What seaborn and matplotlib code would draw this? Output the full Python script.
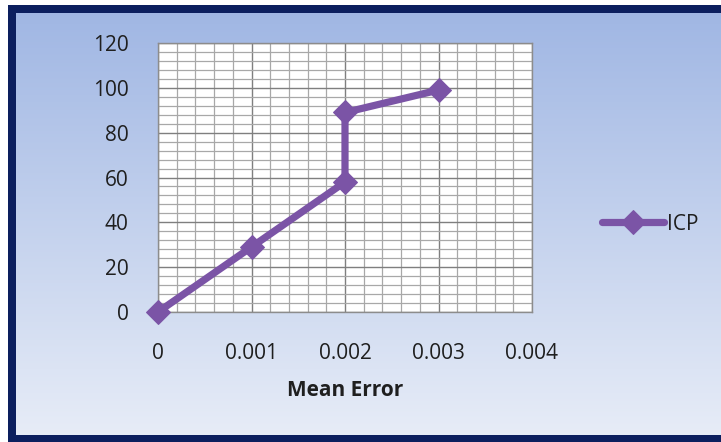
import numpy as np
import pandas as pd
import seaborn as sns
import matplotlib.pyplot as plt
from matplotlib.patches import Rectangle
from matplotlib.ticker import MultipleLocator

# values
mean_error = [0, 0.001, 0.002, 0.002, 0.003]
icp = [0, 29, 58, 89, 99]
x_ticks = [0, 0.001, 0.002, 0.003, 0.004]
x_labels = ["0", "0.001", "0.002", "0.003", "0.004"]
y_ticks = [0, 20, 40, 60, 80, 100, 120]

df = pd.DataFrame({"Mean Error": mean_error, "ICP": icp})

sns.set_style("white")
plt.rcParams["font.family"] = ["Open Sans", "DejaVu Sans"]

purple = "#7b54a6"
txt = "#1f1f1f"
fig = plt.figure(figsize=(7.21, 4.42), dpi=100)
fig.patch.set_facecolor("white")

# gradient background with navy frame
bg = fig.add_axes([0, 0, 1, 1], zorder=-10)
grad = np.linspace(0, 1, 256).reshape(-1, 1)
top = np.array([0.62, 0.71, 0.89])
bot = np.array([0.91, 0.93, 0.97])
img = top + (bot - top) * grad[..., None]
bg.imshow(img, aspect="auto", extent=[0, 1, 0, 1], origin="upper")
bg.set_xlim(0, 1)
bg.set_ylim(0, 1)
bg.axis("off")
W, H = 721, 442
bg.add_patch(Rectangle((0, 1 - 5 / H), 1, 5 / H, color="white", lw=0))
bg.add_patch(Rectangle((0, 0), 8 / W, 1, color="white", lw=0))
bg.add_patch(Rectangle((8 / W, 1 - 13 / H), 1, 8 / H, color="#0c1f5e", lw=0))
bg.add_patch(Rectangle((8 / W, 0), 8 / W, 1 - 5 / H, color="#0c1f5e", lw=0))
bg.add_patch(Rectangle((8 / W, 0), 1, 7 / H, color="#0c1f5e", lw=0))

ax = fig.add_axes([158 / W, 1 - 312 / H, (532 - 158) / W, (312 - 43) / H])
ax.set_facecolor("white")

sns.lineplot(data=df, x="Mean Error", y="ICP", sort=False, estimator=None,
             marker="D", markersize=12, color=purple, linewidth=5.2,
             markeredgecolor=purple, ax=ax, clip_on=False, label="ICP", legend=False,
             zorder=5)

ax.set_xlim(0, 0.004)
ax.set_ylim(0, 120)
ax.set_xticks(x_ticks)
ax.set_xticklabels(x_labels)
ax.set_yticks(y_ticks)
ax.xaxis.set_minor_locator(MultipleLocator(0.0002))
ax.yaxis.set_minor_locator(MultipleLocator(4))
ax.grid(which="major", color="#7f7f7f", linewidth=1.0)
ax.grid(which="minor", color="#a8a8a8", linewidth=0.9)
ax.set_axisbelow(True)
for s in ax.spines.values():
    s.set_color("#8c8c8c")
    s.set_linewidth(1)
ax.tick_params(which="major", axis="both", length=6, color="#8c8c8c",
               labelsize=15, labelcolor=txt, direction="out")
ax.tick_params(which="minor", length=0)
ax.tick_params(axis="x", pad=18, length=4)
ax.tick_params(axis="y", pad=12, length=9)
ax.set_xlabel("Mean Error", fontsize=15, fontweight="bold", color=txt, labelpad=12)
ax.set_ylabel("")

handles, labels = ax.get_legend_handles_labels()
fig.legend(handles, labels, loc="center left", bbox_to_anchor=(583 / W, 1 - 224 / H),
           frameon=False, fontsize=15, handlelength=3.0, handletextpad=0.15,
           labelcolor=txt)

fig.savefig("out.png", dpi=100)
